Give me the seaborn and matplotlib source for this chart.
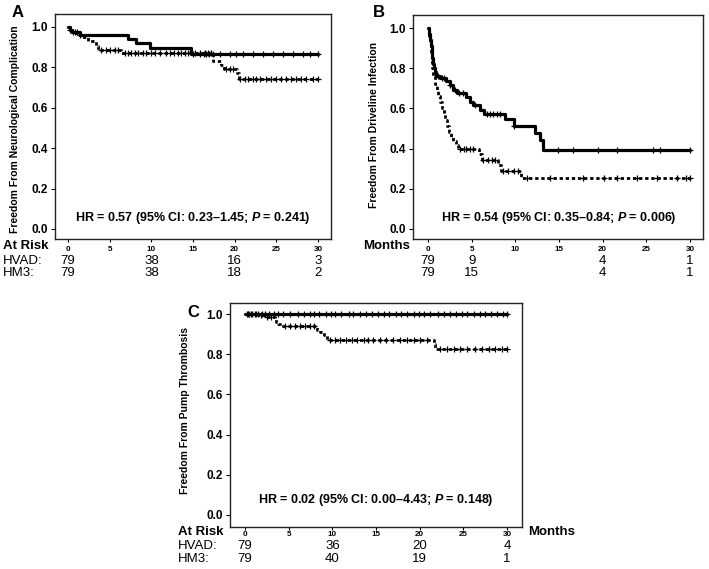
import numpy as np
import matplotlib
matplotlib.use("Agg")
import matplotlib.pyplot as plt
import matplotlib.transforms as mtransforms
import seaborn as sns

# ---- data ----
# Panel A: neurological complication
a_hm3_t = [0, 0.2, 0.5, 1.4, 7.2, 8.2, 9.8, 14.8, 30.0]
a_hm3_s = [1.0, 0.985, 0.975, 0.961, 0.94, 0.92, 0.897, 0.866, 0.866]
a_hm3_cens = [0.2, 0.6, 0.8, 1.1, 1.4, 15.0, 15.8, 16.3, 16.6, 16.9, 17.4, 18.2, 19.4,
              20.2, 21.0, 22.2, 23.4, 24.6, 25.8, 27.0, 28.2, 29.0, 30.0]
a_hvad_t = [0, 0.2, 0.5, 1.0, 1.6, 2.4, 3.4, 3.6, 6.4, 17.4, 18.4, 18.7, 20.3, 20.5, 30.0]
a_hvad_s = [1.0, 0.98, 0.975, 0.96, 0.95, 0.928, 0.905, 0.885, 0.869, 0.831, 0.81,
            0.79, 0.77, 0.741, 0.741]
a_hvad_cens = [4.0, 4.6, 5.0, 5.6, 6.0, 6.8, 7.2, 7.6, 8.0, 8.4, 9.0, 9.4, 10.0, 10.4,
               11.0, 11.8, 12.2, 12.7, 13.2, 13.6, 14.0, 14.4, 15.2, 15.8, 16.4, 16.8,
               17.2, 19.0, 19.4, 19.8, 20.6, 21.2, 21.6, 22.2, 22.6, 23.0, 23.8, 24.4,
               25.0, 25.6, 26.2, 26.8, 27.4, 28.0, 28.6, 29.4, 30.0]
a_risk_hvad = [79, 38, 16, 3]
a_risk_hm3 = [79, 38, 18, 2]
a_hr = "HR = 0.57 (95% CI: 0.23\u20131.45; $P$ = 0.241)"

# Panel B: driveline infection
b_hm3_t = [0, 0.15, 0.25, 0.35, 0.45, 0.5, 0.6, 0.7, 0.8, 0.95, 1.4, 2.1, 2.5, 2.9,
           3.3, 4.4, 4.8, 5.1, 6.0, 6.4, 8.8, 9.8, 12.25, 12.8, 13.2, 30.0]
b_hm3_s = [1.0, 0.97, 0.94, 0.91, 0.88, 0.85, 0.82, 0.80, 0.78, 0.76, 0.75, 0.737,
           0.717, 0.69, 0.676, 0.656, 0.634, 0.617, 0.593, 0.573, 0.546, 0.513, 0.477,
           0.444, 0.391, 0.391]
b_hm3_cens = [1.1, 1.6, 1.8, 2.5, 3.1, 3.6, 4.0, 5.4, 6.7, 7.1, 7.5, 7.9, 8.2, 9.8,
              14.9, 16.6, 19.5, 21.6, 25.8, 26.6, 30.0]
b_hvad_t = [0, 0.1, 0.2, 0.3, 0.4, 0.5, 0.6, 0.8, 1.0, 1.2, 1.4, 1.6, 1.8, 2.0, 2.2,
            2.4, 2.6, 2.9, 3.2, 3.4, 5.8, 6.2, 8.0, 8.4, 10.7, 30.0]
b_hvad_s = [1.0, 0.96, 0.92, 0.88, 0.84, 0.80, 0.76, 0.72, 0.69, 0.66, 0.63, 0.60,
            0.57, 0.54, 0.51, 0.48, 0.46, 0.44, 0.42, 0.40, 0.375, 0.345, 0.318,
            0.29, 0.252, 0.252]
b_hvad_cens = [3.7, 4.1, 4.4, 4.8, 5.2, 6.3, 6.9, 7.3, 7.7, 8.6, 9.2, 9.8, 10.3, 11.3,
               14.0, 17.8, 20.1, 21.6, 23.9, 26.2, 28.5, 29.6, 30.0]
b_risk_hvad = [79, 9, 4, 1]
b_risk_hm3 = [79, 15, 4, 1]
b_hr = "HR = 0.54 (95% CI: 0.35\u20130.84; $P$ = 0.006)"

# Panel C: pump thrombosis
c_hm3_t = [0, 30.0]
c_hm3_s = [1.0, 1.0]
c_hm3_cens = [0.2, 0.5, 0.8, 1.1, 1.5, 1.9, 2.3, 2.8, 3.3, 3.8, 4.3, 5.2, 6.1, 6.8,
              7.4, 7.9, 8.5, 9.3, 9.8, 10.3, 11.0, 11.9, 12.4, 13.2, 13.8, 14.5, 15.2,
              15.9, 16.5, 17.3, 17.9, 18.6, 19.3, 19.9, 20.5, 21.2, 22.1, 22.8, 23.5,
              24.2, 24.9, 25.4, 26.2, 26.9, 27.5, 28.2, 28.9, 29.5, 30.0]
c_hvad_t = [0, 1.5, 2.3, 3.4, 3.6, 3.8, 4.0, 8.2, 8.6, 9.0, 9.4, 21.6, 21.8, 30.0]
c_hvad_s = [1.0, 0.993, 0.985, 0.977, 0.962, 0.952, 0.94, 0.922, 0.91, 0.894, 0.873,
            0.853, 0.825, 0.825]
c_hvad_cens = [0.3, 0.7, 1.2, 1.8, 2.5, 3.0, 4.6, 5.2, 5.7, 6.3, 6.9, 7.4, 7.9, 9.7,
               10.3, 10.9, 11.6, 12.2, 12.8, 13.6, 14.1, 14.7, 15.5, 16.2, 17.0, 17.8,
               18.5, 19.3, 20.0, 20.8, 22.3, 23.1, 23.9, 24.6, 25.4, 26.3, 27.1, 27.9,
               28.6, 29.4, 30.0]
c_risk_hvad = [79, 36, 20, 4]
c_risk_hm3 = [79, 40, 19, 1]
c_hr = "HR = 0.02 (95% CI: 0.00\u20134.43; $P$ = 0.148)"

risk_times = [0, 10, 20, 30]
risk_times_b = [0, 5, 20, 30]

sns.set_theme(style="ticks")
plt.rcParams['font.family'] = ['Liberation Sans', 'DejaVu Sans']
plt.rcParams['mathtext.fontset'] = 'custom'
plt.rcParams['mathtext.it'] = 'Liberation Sans:italic:bold'
plt.rcParams['mathtext.rm'] = 'Liberation Sans:bold'
for key in ['text.color', 'axes.labelcolor', 'xtick.color', 'ytick.color']:
    plt.rcParams[key] = 'black'

fig = plt.figure(figsize=(7.09, 5.69), dpi=100)


def draw_curve(ax, t, s, cens, dashed):
    t = np.asarray(t)
    s = np.asarray(s)
    if dashed:
        sns.lineplot(x=t, y=s, ax=ax, color="black", lw=2.0, drawstyle="steps-post",
                     linestyle=(0, (1.2, 1.0)), estimator=None)
    else:
        sns.lineplot(x=t, y=s, ax=ax, color="black", lw=2.3, drawstyle="steps-post",
                     estimator=None)
    c = np.asarray(cens)
    idx = np.searchsorted(t, c, side="right") - 1
    ax.plot(c, s[idx], "+", color="black", ms=4, mew=0.9)


def panel(rect, xlim, ylim, curves, hr, hr_y, xpad=3):
    ax = fig.add_axes(rect)
    for t, s, cens, dashed in curves:
        draw_curve(ax, t, s, cens, dashed)
    ax.set_xlim(*xlim)
    ax.set_ylim(*ylim)
    ax.set_xticks(range(0, 31, 5))
    ax.set_yticks(np.arange(0, 1.01, 0.2))
    ax.set_yticklabels([f"{v:.1f}" for v in np.arange(0, 1.01, 0.2)],
                       fontsize=8.5, fontweight="bold")
    ax.set_xticklabels([str(v) for v in range(0, 31, 5)], fontsize=5.8,
                       fontweight="bold")
    ax.tick_params(axis="y", length=3, width=0.8, pad=2)
    ax.tick_params(axis="x", length=2, width=0.8, pad=xpad)
    for sp in ax.spines.values():
        sp.set_visible(True)
        sp.set_linewidth(1.0)
        sp.set_color("#222222")
    ax.set_xlabel("")
    ax.set_ylabel("")
    ax.text(15, hr_y, hr, ha="center", va="center", fontsize=9, fontweight="bold")
    return ax


def risk_rows(ax, times, hvad, hm3, y1, y2):
    tr = mtransforms.blended_transform_factory(ax.transData, fig.transFigure)
    for x, a, b in zip(times, hvad, hm3):
        ax.text(x, y1, str(a), transform=tr, ha="center", va="center", fontsize=9.5)
        ax.text(x, y2, str(b), transform=tr, ha="center", va="center", fontsize=9.5)


# Panel A
ax_a = panel([0.0776, 0.58, 0.3893, 0.3954], (-1.56, 31.56), (-0.0495, 1.064),
             [(a_hm3_t, a_hm3_s, a_hm3_cens, False),
              (a_hvad_t, a_hvad_s, a_hvad_cens, True)], a_hr, 0.055)
risk_rows(ax_a, risk_times, a_risk_hvad, a_risk_hm3, 0.5413, 0.5202)
fig.text(0.017, 0.978, "A", fontsize=12, fontweight="bold", va="center")
fig.text(0.021, 0.773, "Freedom From Neurological Complication", rotation=90,
         ha="center", va="center", fontsize=7.5, fontweight="bold")
fig.text(0.004, 0.5677, "At Risk", fontsize=9.5, fontweight="bold", va="center")
fig.text(0.004, 0.5413, "HVAD:", fontsize=9.5, va="center")
fig.text(0.004, 0.5202, "HM3:", fontsize=9.5, va="center")

# Panel B
ax_b = panel([0.5825, 0.58, 0.409, 0.3937], (-1.72, 31.49), (-0.05, 1.065),
             [(b_hm3_t, b_hm3_s, b_hm3_cens, False),
              (b_hvad_t, b_hvad_s, b_hvad_cens, True)], b_hr, 0.055)
risk_rows(ax_b, risk_times_b, b_risk_hvad, b_risk_hm3, 0.5413, 0.5202)
fig.text(0.526, 0.978, "B", fontsize=12, fontweight="bold", va="center")
fig.text(0.527, 0.78, "Freedom From Driveline Infection", rotation=90,
         ha="center", va="center", fontsize=7.5, fontweight="bold")
fig.text(0.512, 0.5677, "Months", fontsize=9.5, fontweight="bold", va="center")

# Panel C
ax_c = panel([0.3244, 0.0738, 0.4119, 0.3937], (-1.72, 31.72), (-0.06, 1.055),
             [(c_hm3_t, c_hm3_s, c_hm3_cens, False),
              (c_hvad_t, c_hvad_s, c_hvad_cens, True)], c_hr, 0.075, xpad=1)
risk_rows(ax_c, risk_times, c_risk_hvad, c_risk_hm3, 0.0405, 0.0176)
fig.text(0.264, 0.45, "C", fontsize=12, fontweight="bold", va="center")
fig.text(0.261, 0.279, "Freedom From Pump Thrombosis", rotation=90,
         ha="center", va="center", fontsize=7.5, fontweight="bold")
fig.text(0.251, 0.065, "At Risk", fontsize=9.5, fontweight="bold", va="center")
fig.text(0.251, 0.0405, "HVAD:", fontsize=9.5, va="center")
fig.text(0.251, 0.0176, "HM3:", fontsize=9.5, va="center")
fig.text(0.745, 0.065, "Months", fontsize=9.5, fontweight="bold", va="center")

fig.savefig("out.png", dpi=100)
